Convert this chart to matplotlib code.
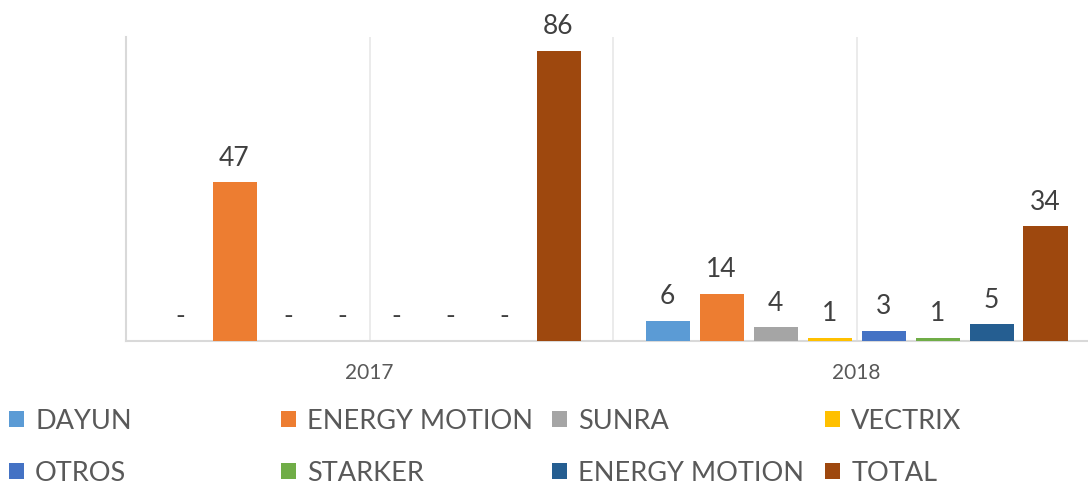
import numpy as np
import matplotlib
matplotlib.use('agg')
from matplotlib import pyplot as plt
from matplotlib.patches import Patch

plt.rcParams['font.family'] = ['Lato', 'DejaVu Sans']

years = ["2017", "2018"]
series = ["DAYUN", "ENERGY MOTION", "SUNRA", "VECTRIX",
          "OTROS", "STARKER", "ENERGY MOTION", "TOTAL"]
colors = ["#5B9BD5", "#ED7D31", "#A5A5A5", "#FFC000",
          "#4472C4", "#70AD47", "#255E91", "#9E480E"]
values = [
    [0, 6],    # DAYUN
    [47, 14],  # ENERGY MOTION
    [0, 4],    # SUNRA
    [0, 1],    # VECTRIX
    [0, 3],    # OTROS
    [0, 1],    # STARKER
    [0, 5],    # ENERGY MOTION
    [86, 34],  # TOTAL
]

W, H = 1088, 485
fig = plt.figure(figsize=(W / 100, H / 100), dpi=100)
ax = fig.add_axes([126 / W, (H - 342) / H, (W - 126) / W, (342 - 38) / H])

x = np.arange(len(years))
pitch = 54 / 487
width = 44 / 487
n = len(series)
for i in range(n):
    pos = x + (i - (n - 1) / 2) * pitch
    bars = ax.bar(pos, values[i], width, color=colors[i], zorder=3)
    labels = ["-" if v == 0 else str(v) for v in values[i]]
    ax.bar_label(bars, labels=labels, padding=9, fontsize=19, color="#404040")

ax.set_xlim(-0.5, -0.5 + (W - 126) / 487)
ax.set_ylim(0, 90)
ax.set_yticks([])
ax.set_xticks(x)
ax.set_xticklabels(years, fontsize=15, color="#595959")
ax.tick_params(axis='x', length=0, pad=15)

for gx in [0, 0.5, 1]:
    ax.axvline(gx, color="#E8E8E8", lw=1.2, zorder=1)

for s in ["top", "right"]:
    ax.spines[s].set_visible(False)
ax.spines["left"].set_color("#D9D9D9")
ax.spines["bottom"].set_color("#D9D9D9")
ax.spines["left"].set_linewidth(1.5)
ax.spines["bottom"].set_linewidth(1.5)

handles = [Patch(facecolor=c) for c in colors]
col_x = [4, 276, 547, 820]
for j in range(4):
    idx = [j, j + 4]
    fig.legend([handles[k] for k in idx], [series[k] for k in idx],
               loc="upper left", bbox_to_anchor=(col_x[j] / W, 1 - 404 / H),
               frameon=False, fontsize=19.5, handlelength=0.55, handleheight=0.55,
               handletextpad=0.4, labelspacing=1.0, labelcolor="#595959",
               borderaxespad=0, borderpad=0.2)

plt.savefig("out.png", dpi=100)
